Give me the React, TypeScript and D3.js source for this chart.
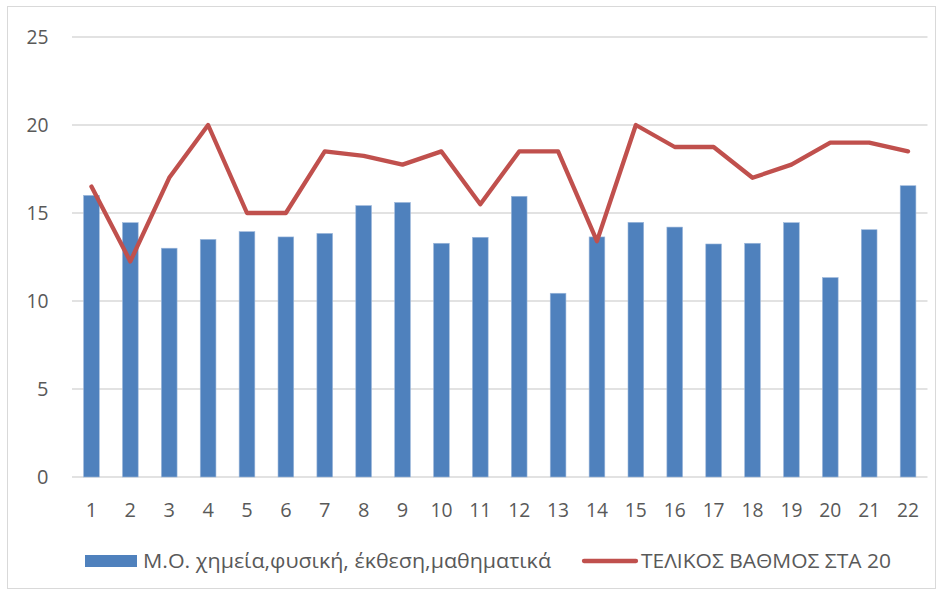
import React from "react";
import * as d3 from "d3";

const categories = ["1","2","3","4","5","6","7","8","9","10","11","12","13","14","15","16","17","18","19","20","21","22"];
const barValues = [16.0,14.45,13.0,13.5,13.94,13.64,13.84,15.42,15.6,13.28,13.62,15.95,10.44,13.64,14.47,14.2,13.24,13.28,14.45,11.33,14.05,16.55];
const lineValues = [16.5,12.25,17.0,20,15,15,18.5,18.25,17.75,18.5,15.5,18.5,18.5,13.4,20,18.75,18.75,17,17.75,19,19,18.5];
const yTicks = [0,5,10,15,20,25];
const barSeriesName = "Μ.Ο. χημεία,φυσική, έκθεση,μαθηματικά";
const lineSeriesName = "ΤΕΛΙΚΟΣ ΒΑΘΜΟΣ ΣΤΑ 20";

const W = 942, H = 594;
const plot = { left: 72, right: 927.5, top: 37, bottom: 477 };
const BLUE = "#4F81BD";
const RED = "#C0504D";
const FONT = "'Open Sans', 'Liberation Sans', sans-serif";
const TXT = "#595959";

export default function App() {
  const xc = d3.scalePoint<string>().domain(categories).range([plot.left, plot.right]).padding(0.5);
  const y = d3.scaleLinear().domain([0, 25]).range([plot.bottom, plot.top]);
  const line = d3.line<number>().x((_, i) => xc(categories[i])!).y(d => y(d));
  const bw = 15.7;
  return (
    <svg width={W} height={H} style={{ position: "absolute", left: 0, top: 0 }} fontFamily={FONT}>
      <rect x={0} y={0} width={W} height={H} fill="#fff" />
      <rect x={7.5} y={6.5} width={928} height={582} fill="none" stroke="#d9d9d9" strokeWidth={1} />
      {yTicks.map(t => (
        <g key={t}>
          <line x1={plot.left} x2={plot.right} y1={y(t)} y2={y(t)} stroke="#d9d9d9" strokeWidth={1.3} />
          <text x={48.5} y={y(t)} dy="0.36em" textAnchor="end" fontSize={20} fill={TXT} textLength={t >= 10 ? 22 : undefined} lengthAdjust="spacingAndGlyphs">{t}</text>
        </g>
      ))}
      {barValues.map((v, i) => (
        <rect key={i} x={xc(categories[i])! - bw / 2} width={bw} y={y(v)} height={y(0) - y(v)} fill={BLUE} stroke="#9db8db" strokeWidth={0.6} />
      ))}
      <path d={line(lineValues)!} fill="none" stroke={RED} strokeWidth={4.3} strokeLinejoin="round" strokeLinecap="round" />
      {categories.map(c => (
        <text key={c} x={xc(c)!} y={510} dy="0.36em" textAnchor="middle" fontSize={20} fill={TXT} textLength={c.length > 1 ? 22 : undefined} lengthAdjust="spacingAndGlyphs">{c}</text>
      ))}
      <rect x={85} y={555} width={52} height={12} fill={BLUE} />
      <text x={143} y={561} dy="0.36em" fontSize={20} fill={TXT} textLength={408} lengthAdjust="spacingAndGlyphs">{barSeriesName}</text>
      <line x1={584} x2={636} y1={561} y2={561} stroke={RED} strokeWidth={4.3} strokeLinecap="round" />
      <text x={641} y={561} dy="0.36em" fontSize={20} fill={TXT} textLength={250} lengthAdjust="spacingAndGlyphs">{lineSeriesName}</text>
    </svg>
  );
}
